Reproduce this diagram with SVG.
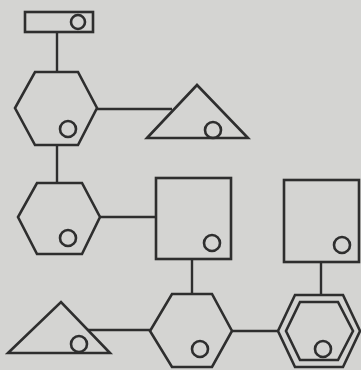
<svg xmlns="http://www.w3.org/2000/svg" width="361" height="370" viewBox="0 0 361 370">
<style>
.s{fill:none;stroke:#2e2e2e;stroke-width:2.6;stroke-linejoin:miter}
.c{fill:none;stroke:#2e2e2e;stroke-width:2.6}
.l{stroke:#2e2e2e;stroke-width:2.4}
</style>
<rect width="361" height="370" fill="#d4d4d2"/>
<g id="connectors">
<line class="l" x1="57" y1="32" x2="57" y2="72"/>
<line class="l" x1="97" y1="109" x2="172" y2="109"/>
<line class="l" x1="57" y1="145" x2="57" y2="183"/>
<line class="l" x1="100" y1="217" x2="156" y2="217"/>
<line class="l" x1="192" y1="259" x2="192" y2="294"/>
<line class="l" x1="321" y1="262" x2="321" y2="295"/>
<line class="l" x1="88" y1="330" x2="150" y2="330"/>
<line class="l" x1="232" y1="331" x2="278" y2="331"/>
</g>
<g id="rect1"><rect class="s" x="25" y="12" width="68" height="20"/><circle class="c" cx="78" cy="22" r="7"/></g>
<g id="hex1"><polygon class="s" points="35,72 78,72 97,108 78,145 35,145 15,108"/><circle class="c" cx="68" cy="129" r="8"/></g>
<g id="tri1"><polygon class="s" points="147,138 197,85 248,138"/><circle class="c" cx="213" cy="130" r="8"/></g>
<g id="hex2"><polygon class="s" points="37,183 82,183 100,217 82,254 37,254 18,217"/><circle class="c" cx="68" cy="238" r="8"/></g>
<g id="rect2"><rect class="s" x="156" y="178" width="75" height="81"/><circle class="c" cx="212" cy="243" r="8"/></g>
<g id="rect3"><rect class="s" x="284" y="180" width="75" height="82"/><circle class="c" cx="342" cy="245" r="8"/></g>
<g id="tri2"><polygon class="s" points="8,353 61,302 110,353"/><circle class="c" cx="79" cy="344" r="8"/></g>
<g id="hex3"><polygon class="s" points="172,294 212,294 232,331 212,367 172,367 150,331"/><circle class="c" cx="200" cy="349" r="8"/></g>
<g id="hex4"><polygon class="s" points="295,295 343,295 360,331 343,367 295,367 278,331"/><polygon class="s" points="300,302 338,302 353,331 338,360 300,360 286,331"/><circle class="c" cx="323" cy="349" r="8"/></g>
</svg>
